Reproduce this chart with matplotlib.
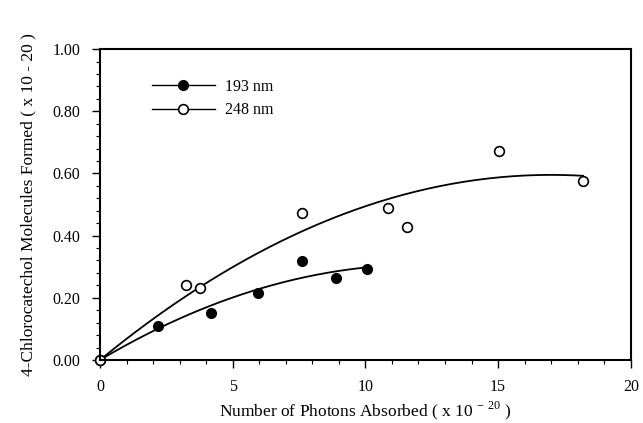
import numpy as np
import matplotlib
matplotlib.use("Agg")
import matplotlib.pyplot as plt
from matplotlib.ticker import MultipleLocator

plt.rcParams['font.family'] = ['Liberation Serif', 'DejaVu Serif']
plt.rcParams['mathtext.fontset'] = 'custom'
plt.rcParams['mathtext.rm'] = 'Liberation Serif'

# data
x_193 = [0.0, 2.2, 4.2, 5.95, 7.6, 8.9, 10.05]
y_193 = [0.0, 0.11, 0.15, 0.215, 0.318, 0.264, 0.292]
x_248 = [0.0, 3.25, 3.75, 7.6, 10.85, 11.55, 15.05, 18.2]
y_248 = [0.0, 0.241, 0.232, 0.473, 0.489, 0.428, 0.672, 0.576]


def fit_curve(x, y):
    # quadratic through origin, least squares
    x = np.asarray(x)
    A = np.column_stack([x, x ** 2])
    coef = np.linalg.lstsq(A, np.asarray(y), rcond=None)[0]
    xs = np.linspace(0, x.max(), 200)
    return xs, coef[0] * xs + coef[1] * xs ** 2


fig = plt.figure(figsize=(6.43, 4.23), dpi=100)
ax = fig.add_axes([0.1555, 0.149, 0.8255, 0.735])

xs, ys = fit_curve(x_193, y_193)
ax.plot(xs, ys, color='black', lw=1.3)
xs, ys = fit_curve(x_248, y_248)
ax.plot(xs, ys, color='black', lw=1.3)

ax.plot(x_193, y_193, 'o', color='black', ms=7, clip_on=False)
ax.plot(x_248, y_248, 'o', mfc='white', mec='black', mew=1.2, ms=7, clip_on=False)

# legend handles
h1, = ax.plot([], [], '-o', color='black', lw=1.0, ms=7)
h2, = ax.plot([], [], '-o', color='black', mfc='white', mew=1.2, lw=1.0, ms=7)
ax.legend([h1, h2], ['193 nm', '248 nm'], frameon=False, loc='upper left',
          bbox_to_anchor=(0.07, 0.95), fontsize=11.5, handlelength=4.0,
          labelspacing=0.45, handletextpad=0.6)

ax.set_xlim(0, 20)
ax.set_ylim(0, 1.0)
ax.xaxis.set_major_locator(MultipleLocator(5))
ax.xaxis.set_minor_locator(MultipleLocator(1))
ax.yaxis.set_major_locator(MultipleLocator(0.2))
ax.yaxis.set_minor_locator(MultipleLocator(0.04))
ax.yaxis.set_major_formatter(matplotlib.ticker.FormatStrFormatter('%.2f'))
ax.tick_params(which='major', direction='out', length=6, width=1, labelsize=11.5, pad=8)
ax.tick_params(which='minor', direction='out', length=3, width=0.8)
for s in ax.spines.values():
    s.set_linewidth(1.5)

ax.set_xlabel('Number of Photons Absorbed ( x 10$^{\\,-\\,20}$ )', fontsize=12.5, labelpad=3)
ax.set_ylabel('4-Chlorocatechol Molecules Formed ( x 10 - 20 )', fontsize=12.5, labelpad=12)

fig.savefig('out.png', dpi=100)
